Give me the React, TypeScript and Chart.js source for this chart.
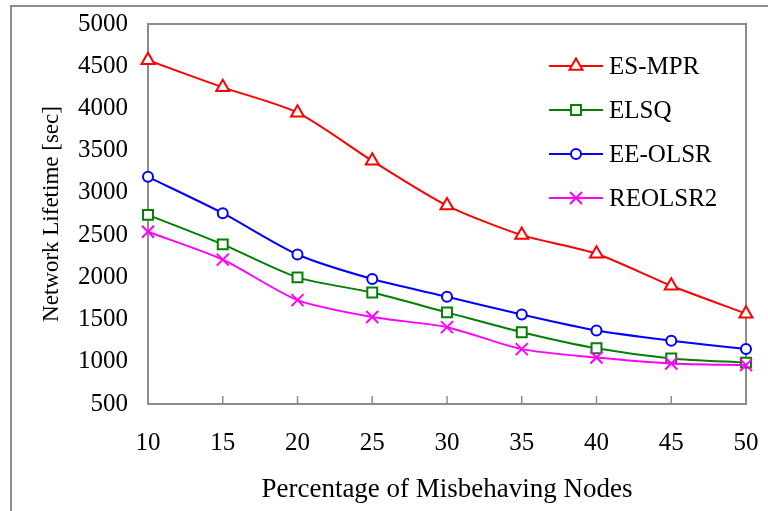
import React, { useEffect, useRef } from 'react';
import { Chart, registerables } from 'chart.js';

Chart.register(...registerables);

const categories = ['10', '15', '20', '25', '30', '35', '40', '45', '50'];
const esMpr = [4570, 4250, 3950, 3380, 2850, 2500, 2280, 1900, 1570];
const elsq = [2740, 2390, 2000, 1820, 1585, 1350, 1160, 1040, 990];
const eeOlsr = [3190, 2760, 2270, 1980, 1770, 1560, 1370, 1250, 1150];
const reolsr2 = [2540, 2210, 1730, 1530, 1410, 1150, 1050, 980, 960];
const seriesNames = ['ES-MPR', 'ELSQ', 'EE-OLSR', 'REOLSR2'];

const yMin = 500;
const yMax = 5000;
const yStep = 500;

const FONT = "'Liberation Serif', 'Times New Roman', serif";
const AXIS_GRAY = '#8c8c8c';

function drawMarker(ctx: CanvasRenderingContext2D, style: string, x: number, y: number, r: number, color: string) {
  ctx.save();
  ctx.strokeStyle = color;
  ctx.fillStyle = '#ffffff';
  ctx.lineWidth = 2;
  ctx.beginPath();
  if (style === 'triangle') {
    let rad = 0;
    ctx.moveTo(x + Math.sin(rad) * r, y - Math.cos(rad) * r);
    rad += (2 * Math.PI) / 3;
    ctx.lineTo(x + Math.sin(rad) * r, y - Math.cos(rad) * r);
    rad += (2 * Math.PI) / 3;
    ctx.lineTo(x + Math.sin(rad) * r, y - Math.cos(rad) * r);
    ctx.closePath();
    ctx.fill();
    ctx.stroke();
  } else if (style === 'rect') {
    const s = r * Math.SQRT1_2;
    ctx.rect(x - s, y - s, 2 * s, 2 * s);
    ctx.fill();
    ctx.stroke();
  } else if (style === 'circle') {
    ctx.arc(x, y, r, 0, Math.PI * 2);
    ctx.fill();
    ctx.stroke();
  } else {
    const s = r * Math.SQRT1_2;
    ctx.moveTo(x - s, y - s);
    ctx.lineTo(x + s, y + s);
    ctx.moveTo(x + s, y - s);
    ctx.lineTo(x - s, y + s);
    ctx.stroke();
  }
  ctx.restore();
}

const framePlugin = {
  id: 'frame',
  beforeDraw(chart: any) {
    const ctx = chart.ctx as CanvasRenderingContext2D;
    ctx.save();
    ctx.fillStyle = '#ffffff';
    ctx.fillRect(0, 0, chart.width, chart.height);
    ctx.strokeStyle = AXIS_GRAY;
    ctx.lineWidth = 2;
    ctx.strokeRect(11, 6, chart.width + 10, chart.height + 10);
    ctx.restore();
  },
  beforeDatasetsDraw(chart: any) {
    const ctx = chart.ctx as CanvasRenderingContext2D;
    const { left, right, top, bottom } = chart.chartArea;
    const xs = chart.scales.x;
    ctx.save();
    ctx.strokeStyle = AXIS_GRAY;
    ctx.lineWidth = 2;
    ctx.beginPath();
    ctx.moveTo(left, top);
    ctx.lineTo(right, top);
    ctx.lineTo(right, bottom);
    ctx.stroke();
    ctx.lineWidth = 1.5;
    ctx.beginPath();
    for (let i = 1; i < categories.length - 1; i++) {
      const px = xs.getPixelForValue(i);
      ctx.moveTo(px, bottom);
      ctx.lineTo(px, bottom - 8);
    }
    ctx.stroke();
    ctx.restore();
  },
  afterDraw(chart: any) {
    const ctx = chart.ctx as CanvasRenderingContext2D;
    const lineX0 = 549;
    const lineX1 = 603;
    const textX = 609;
    chart.data.datasets.forEach((ds: any, i: number) => {
      const y = 66 + i * 44;
      ctx.save();
      ctx.strokeStyle = ds.borderColor;
      ctx.lineWidth = 2;
      ctx.beginPath();
      ctx.moveTo(lineX0, y);
      ctx.lineTo(lineX1, y);
      ctx.stroke();
      ctx.restore();
      drawMarker(ctx, ds.pointStyle, (lineX0 + lineX1) / 2, y, ds.pointRadius, ds.borderColor);
      ctx.save();
      ctx.fillStyle = '#000000';
      ctx.font = `25px ${FONT}`;
      ctx.textAlign = 'left';
      ctx.textBaseline = 'middle';
      ctx.fillText(ds.label, textX, y + 1);
      ctx.restore();
    });
  },
};

export default function App() {
  const canvasRef = useRef<HTMLCanvasElement | null>(null);

  useEffect(() => {
    if (!canvasRef.current) return;
    const mk = (label: string, data: number[], color: string, style: string, r: number, order: number) => ({
      label,
      data,
      borderColor: color,
      backgroundColor: color,
      pointBackgroundColor: '#ffffff',
      pointBorderColor: color,
      pointBorderWidth: 2,
      pointStyle: style,
      pointRadius: r,
      borderWidth: 2,
      tension: 0.25,
      clip: false as any,
      order,
    });
    const chart = new Chart(canvasRef.current, {
      type: 'line',
      data: {
        labels: categories,
        datasets: [
          mk(seriesNames[0], esMpr, '#ff0000', 'triangle', 7.5, 3),
          mk(seriesNames[1], elsq, '#008000', 'rect', 7, 2),
          mk(seriesNames[2], eeOlsr, '#0000ff', 'circle', 5, 1),
          mk(seriesNames[3], reolsr2, '#ff00ff', 'crossRot', 8.5, 0),
        ] as any,
      },
      options: {
        animation: false,
        responsive: false,
        maintainAspectRatio: false,
        layout: { padding: { top: 24, right: 22, left: 0, bottom: 0 } },
        plugins: {
          legend: { display: false },
          tooltip: { enabled: false },
        },
        scales: {
          x: {
            type: 'category',
            offset: false,
            grid: { display: false, drawTicks: false },
            border: { display: true, color: AXIS_GRAY, width: 2 },
            ticks: {
              color: '#000000',
              font: { family: FONT, size: 25 },
              padding: 24,
              maxRotation: 0,
              autoSkip: false,
            },
            title: {
              display: true,
              text: 'Percentage of Misbehaving Nodes',
              color: '#000000',
              font: { family: FONT, size: 27 },
              padding: { top: 0, bottom: 5 },
            },
            afterFit(scale: any) {
              scale.height = 107;
              scale.paddingLeft = 0;
              scale.paddingRight = 0;
            },
          },
          y: {
            min: yMin,
            max: yMax,
            grid: { display: false, drawTicks: false },
            border: { display: true, color: AXIS_GRAY, width: 2 },
            ticks: {
              stepSize: yStep,
              color: '#000000',
              font: { family: FONT, size: 25 },
              padding: 20,
              callback: (v: any) => String(v),
            },
            title: {
              display: true,
              text: 'Network Lifetime [sec]',
              color: '#000000',
              font: { family: FONT, size: 23 },
              padding: { top: 38, bottom: 0 },
            },
            afterFit(scale: any) {
              scale.width = 148;
              scale.paddingTop = 0;
              scale.paddingBottom = 0;
            },
          },
        },
      },
      plugins: [framePlugin],
    });
    return () => chart.destroy();
  }, []);

  return (
    <div style={{ position: 'absolute', left: 0, top: 0, width: 768, height: 511, background: '#fff' }}>
      <canvas ref={canvasRef} width={768} height={511} style={{ display: 'block', width: 768, height: 511 }} />
    </div>
  );
}
